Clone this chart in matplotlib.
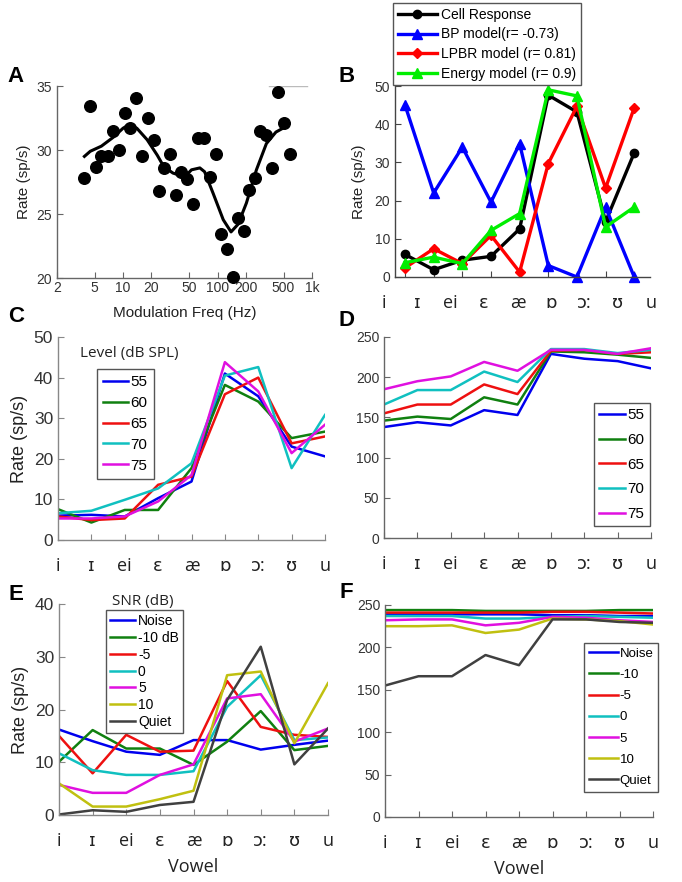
import matplotlib
matplotlib.use('Agg')
import matplotlib.pyplot as plt
import matplotlib.transforms as mtransforms

# ---- data ----
vowels = ['i', 'ɪ', 'ei', 'ɛ', 'æ', 'ɒ', 'ɔ:', 'ʊ', 'u']
vpos = list(range(1, 10))

# A: modulation transfer function
mod_freq = [3.9, 4.5, 5.15, 5.9, 6.85, 7.9, 9.1, 10.4, 11.9, 13.6, 15.8, 18.3, 21.1,
            24.0, 27.2, 31.4, 36.1, 41.1, 47.1, 54.6, 62.1, 71.8, 83.2, 95.4, 108.6,
            124.7, 144.3, 164, 190, 216, 252, 285, 329, 381, 437, 506, 581]
mod_rate = [27.8, 33.4, 28.7, 29.5, 29.5, 31.5, 30.0, 32.9, 31.7, 34.1, 29.5, 32.5, 30.8,
            26.8, 28.6, 29.7, 26.5, 28.3, 27.7, 25.8, 30.9, 30.9, 27.9, 29.7, 23.4,
            22.3, 20.05, 24.7, 23.7, 26.9, 27.8, 31.5, 31.2, 28.6, 34.5, 32.1, 29.7]
fit_freq = [3.9, 4.5, 5.9, 7.9, 10, 11.7, 14, 18, 23, 27, 33.7, 45, 53, 65, 73, 90,
            115, 139, 165, 202, 258, 329, 415, 520]
fit_rate = [29.5, 29.9, 30.3, 31.0, 31.7, 32.0, 31.7, 30.8, 29.6, 28.7, 28.2, 27.9,
            28.45, 28.6, 28.3, 26.6, 24.55, 23.6, 24.2, 25.85, 28.45, 30.5, 31.4, 31.8]

# B: cell response vs models
cell_resp = [5.9, 1.9, 4.4, 5.4, 12.6, 47.6, 43.2, 14.5, 32.5]
bp_model = [45, 22, 34, 19.6, 34.9, 3.0, 0, 18.3, 0]
lpbr_model = [2.4, 7.4, 3.5, 10.9, 1.3, 29.7, 44.7, 23.3, 44.3]
energy_model = [3.75, 5.2, 3.5, 12.2, 16.6, 49, 47.4, 13.1, 18.3]

# C / D: sound level
levels = ['55', '60', '65', '70', '75']
c_rates = [
    [6.0, 6.2, 5.8, 10.3, 14.4, 41.0, 35.4, 23.0, 20.6],
    [7.6, 4.3, 7.4, 7.4, 17.7, 38.2, 34.1, 25.1, 26.7],
    [5.8, 4.9, 5.3, 13.6, 15.6, 35.9, 40.0, 23.8, 25.5],
    [6.6, 7.2, 9.9, 12.7, 18.9, 40.5, 42.6, 17.7, 30.8],
    [5.3, 5.3, 5.8, 9.5, 16.0, 43.8, 36.6, 21.4, 28.4],
]
d_rates = [
    [138, 144, 140, 159, 153, 229, 223, 220, 211],
    [146, 151, 148, 175, 166, 232, 231, 228, 224],
    [155, 166, 166, 191, 179, 233, 234, 229, 231],
    [166, 184, 184, 207, 194, 235, 235, 230, 234],
    [185, 195, 201, 219, 208, 234, 234, 229, 236],
]

# E / F: signal-to-noise ratio
e_labels = ['Noise', '-10 dB', '-5', '0', '5', '10', 'Quiet']
f_labels = ['Noise', '-10', '-5', '0', '5', '10', 'Quiet']
e_rates = [
    [16.2, 14.0, 12.0, 11.4, 14.2, 14.2, 12.4, 13.3, 14.1],
    [10.1, 16.1, 12.6, 12.6, 9.5, 13.9, 19.7, 12.3, 13.1],
    [15.0, 7.9, 15.2, 12.0, 12.2, 25.4, 16.7, 15.2, 14.8],
    [11.7, 8.5, 7.6, 7.6, 8.3, 20.5, 26.5, 14.2, 14.7],
    [5.7, 4.2, 4.2, 7.6, 9.6, 22.1, 22.9, 13.9, 16.4],
    [6.0, 1.6, 1.6, 3.0, 4.6, 26.5, 27.2, 13.6, 25.0],
    [0.1, 0.9, 0.6, 1.9, 2.5, 21.8, 31.9, 9.6, 16.4],
]
f_rates = [
    [239, 239, 239, 239, 239, 238, 238, 237, 237],
    [244, 244, 244, 243, 243, 243, 243, 244, 244],
    [241, 241, 241, 241, 241, 242, 242, 241, 240],
    [237, 237, 237, 234, 234, 236, 237, 236, 235],
    [232, 233, 233, 226, 229, 236, 235, 232, 230],
    [225, 225, 226, 217, 221, 234, 233, 231, 227],
    [155, 166, 166, 191, 179, 233, 233, 230, 229],
]

line_cols = ['#0000ee', '#108010', '#ee1010', '#10c0c0', '#e010e0', '#c0c010', '#404040']

# ---- figure ----
W, H = 682, 882
plt.rcParams['font.family'] = ['Liberation Sans', 'DejaVu Sans']
fig = plt.figure(figsize=(W / 100, H / 100), dpi=100)


def px_axes(l, t, r, b):
    return fig.add_axes([l / W, 1 - b / H, (r - l) / W, (b - t) / H])


def style(ax, col='#666666', fs=10, tcol='#333333'):
    for s in ['top', 'right']:
        ax.spines[s].set_visible(False)
    for s in ['left', 'bottom']:
        ax.spines[s].set_color(col)
        ax.spines[s].set_linewidth(1.0)
    ax.tick_params(direction='in', color=col, labelcolor=tcol, labelsize=fs, length=4)
    ax.minorticks_off()


def fig_leg(ax, handles, labels, x, y, **kw):
    leg = ax.legend(handles, labels, loc='upper left', bbox_to_anchor=(x / W, 1 - y / H),
                    bbox_transform=fig.transFigure, borderaxespad=0, fancybox=False,
                    edgecolor='#555555', framealpha=1, **kw)
    leg.get_frame().set_linewidth(1.0)
    return leg


soft = ['Open Sans', 'DejaVu Sans']

# A
axA = px_axes(57, 86, 312, 278)
style(axA)
axA.set_xscale('log')
axA.scatter(mod_freq, mod_rate, s=70, color='black', zorder=3, clip_on=False)
axA.plot(fit_freq, fit_rate, color='black', lw=2.2)
axA.axhline(35, xmin=0.83, xmax=0.98, color='#bbbbbb', lw=1)
axA.set_xlim(2, 1000)
axA.set_ylim(20, 35)
axA.set_xticks([2, 5, 10, 20, 50, 100, 200, 500, 1000])
axA.set_xticklabels(['2', '5', '10', '20', '50', '100', '200', '500', '1k'])
axA.minorticks_off()
axA.set_yticks([20, 25, 30, 35])
axA.tick_params(axis='x', pad=2)
axA.set_ylabel('Rate (sp/s)', fontsize=11, color='#222222', labelpad=4)
axA.set_xlabel('Modulation Freq (Hz)', fontsize=11, color='#222222', labelpad=8)

# B
axB = px_axes(395, 86, 650, 277)
style(axB, col='#444444')
hb = []
hb += axB.plot(vpos, cell_resp, '-o', color='black', lw=2.4, ms=6)
hb += axB.plot(vpos, bp_model, '-^', color='#0000ff', lw=2.4, ms=7)
hb += axB.plot(vpos, lpbr_model, '-D', color='#ff0000', lw=2.4, ms=5)
hb += axB.plot(vpos, energy_model, '-^', color='#00ee00', lw=2.4, ms=7)
for h in hb:
    h.set_clip_on(False)
axB.set_xlim(0.65, 9.55)
axB.set_ylim(0, 50)
axB.set_yticks(range(0, 51, 10))
axB.set_xticks(vpos)
axB.set_xticklabels([])
axB.set_ylabel('Rate (sp/s)', fontsize=11, color='#222222', labelpad=6)
fig_leg(axB, hb, ['Cell Response', 'BP model(r= -0.73)', 'LPBR model (r= 0.81)',
                  'Energy model (r= 0.9)'],
        393, 3, fontsize=10, handlelength=2.8, labelspacing=0.4, borderpad=0.35,
        handletextpad=0.3)

# C
axC = px_axes(58, 337, 325, 540)
style(axC, col='#888888', fs=12.5)
hc = []
for rates, col in zip(c_rates, line_cols):
    hc += axC.plot(vpos, rates, color=col, lw=1.8)
axC.set_xlim(1, 9)
axC.set_ylim(0, 50)
axC.set_yticks(range(0, 51, 10))
axC.set_xticks(vpos)
axC.set_xticklabels(vowels, fontsize=13, family=soft, color='#222222')
axC.tick_params(axis='x', pad=12)
axC.set_ylabel('Rate (sp/s)', fontsize=13, color='#222222', labelpad=4)
axC.text(80 / W, 1 - 353 / H, 'Level (dB SPL)', transform=fig.transFigure, fontsize=11,
         family=soft, va='center', color='#222222')
fig_leg(axC, hc, levels, 97, 369, fontsize=11, handlelength=1.6, labelspacing=0.45,
        borderpad=0.4, handletextpad=0.2)

# D
axD = px_axes(384, 337, 651, 538)
style(axD, col='#666666', fs=10)
hd = []
for rates, col in zip(d_rates, line_cols):
    hd += axD.plot(vpos, rates, color=col, lw=1.8)
axD.set_xlim(1, 9)
axD.set_ylim(0, 250)
axD.set_yticks(range(0, 251, 50))
axD.set_xticks(vpos)
axD.set_xticklabels(vowels, fontsize=13, family=soft, color='#222222')
axD.tick_params(axis='x', pad=12)
fig_leg(axD, hd, levels, 594, 403, fontsize=11, handlelength=1.7,
        labelspacing=0.7, borderpad=0.35, handletextpad=0.15)

# B vowel labels placed above D, aligned with D's categories
trans = mtransforms.blended_transform_factory(axD.transData, fig.transFigure)
for xv, v in zip(vpos, vowels):
    fig.text(xv, 1 - 303 / H, v, transform=trans, ha='center', va='center',
             fontsize=13, family=soft, color='#222222')

# E
axE = px_axes(59, 604, 328, 815)
style(axE, col='#888888', fs=12.5)
he = []
for rates, col in zip(e_rates, line_cols):
    he += axE.plot(vpos, rates, color=col, lw=1.8)
axE.set_xlim(1, 9)
axE.set_ylim(0, 40)
axE.set_yticks(range(0, 41, 10))
axE.set_xticks(vpos)
axE.set_xticklabels(vowels, fontsize=13, family=soft, color='#222222')
axE.tick_params(axis='x', pad=12)
axE.set_ylabel('Rate (sp/s)', fontsize=13, color='#222222', labelpad=4)
axE.set_xlabel('Vowel', fontsize=13, family=soft, color='#222222', labelpad=6)
axE.text(112 / W, 1 - 602 / H, 'SNR (dB)', transform=fig.transFigure, fontsize=11,
         family=soft, va='center', color='#222222')
fig_leg(axE, he, e_labels, 106, 610, fontsize=10, handlelength=1.8, labelspacing=0.2,
        borderpad=0.3, handletextpad=0.2)

# F
axF = px_axes(385, 605, 653, 817)
style(axF, col='#666666', fs=10)
hf = []
for rates, col in zip(f_rates, line_cols):
    hf += axF.plot(vpos, rates, color=col, lw=1.8)
axF.set_xlim(1, 9)
axF.set_ylim(0, 250)
axF.set_yticks(range(0, 251, 50))
axF.set_xticks(vpos)
axF.set_xticklabels(vowels, fontsize=13, family=soft, color='#222222')
axF.tick_params(axis='x', pad=12)
axF.set_xlabel('Vowel', fontsize=13, family=soft, color='#222222', labelpad=6)
fig_leg(axF, hf, f_labels, 584, 643, fontsize=9.5, handlelength=2.2,
        labelspacing=0.68, borderpad=0.35, handletextpad=0.15)

# panel letters
for lab, x, y in [('A', 16, 77), ('B', 347, 76), ('C', 16, 316), ('D', 346, 320),
                  ('E', 16, 595), ('F', 346, 593)]:
    fig.text(x / W, 1 - y / H, lab, fontsize=16, fontweight='bold', ha='center',
             va='center', color='black')

fig.savefig('out.png', dpi=100)
